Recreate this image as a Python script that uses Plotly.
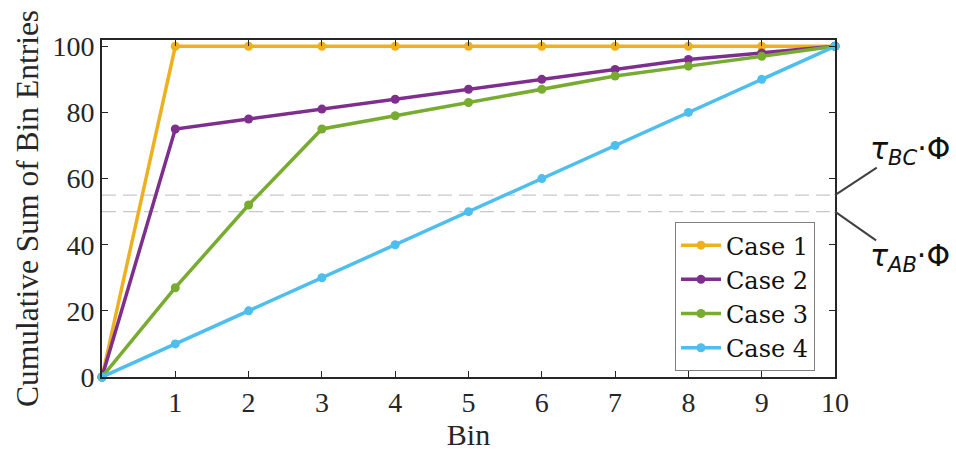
import plotly.graph_objects as go

bins = [0, 1, 2, 3, 4, 5, 6, 7, 8, 9, 10]
case1 = [0, 100, 100, 100, 100, 100, 100, 100, 100, 100, 100]
case2 = [0, 75, 78, 81, 84, 87, 90, 93, 96, 98, 100]
case3 = [0, 27, 52, 75, 79, 83, 87, 91, 94, 97, 100]
case4 = [0, 10, 20, 30, 40, 50, 60, 70, 80, 90, 100]
names = ["Case 1", "Case 2", "Case 3", "Case 4"]
colors = ["#EDB120", "#7E2F8E", "#77AC30", "#4DBEEE"]
tau_ab = 50
tau_bc = 55
xticks = [1, 2, 3, 4, 5, 6, 7, 8, 9, 10]
yticks = [0, 20, 40, 60, 80, 100]

FONT = "Liberation Serif"
fig = go.Figure()
for name, ys, c in zip(names, [case1, case2, case3, case4], colors):
    fig.add_trace(go.Scatter(x=bins, y=ys, name=name, mode="lines+markers",
                             line=dict(color=c, width=3.5),
                             marker=dict(color=c, size=9),
                             cliponaxis=False))

for yv in [tau_bc, tau_ab]:
    fig.add_shape(type="line", xref="x", yref="y", x0=0, x1=10, y0=yv, y1=yv,
                  line=dict(color="#c8c8c8", width=1.3, dash="14px,7px"), layer="below")

# leader lines to labels
fig.add_shape(type="line", xref="paper", yref="y", x0=1.0, x1=1.057, y0=tau_bc, y1=63.3,
              line=dict(color="#404040", width=2))
fig.add_shape(type="line", xref="paper", yref="y", x0=1.0, x1=1.056, y0=tau_ab, y1=41.3,
              line=dict(color="#404040", width=2))
fig.add_annotation(xref="paper", yref="y", x=1.045, y=68.4, xanchor="left", yanchor="middle",
                   text="<i>τ<sub>BC</sub></i>·Φ", showarrow=False,
                   font=dict(family="DejaVu Sans", size=30, color="#111111"))
fig.add_annotation(xref="paper", yref="y", x=1.045, y=36.2, xanchor="left", yanchor="middle",
                   text="<i>τ<sub>AB</sub></i>·Φ", showarrow=False,
                   font=dict(family="DejaVu Sans", size=30, color="#111111"))

axis_common = dict(showline=True, linecolor="#262626", linewidth=1.6, mirror="allticks",
                   ticks="inside", ticklen=6, tickwidth=1.4, tickcolor="#262626",
                   showgrid=False, zeroline=False,
                   tickfont=dict(family=FONT, size=28, color="#262626"))
fig.update_xaxes(range=[0, 10], tickvals=xticks, title=dict(text="Bin", standoff=6,
                 font=dict(family=FONT, size=30, color="#262626")), **axis_common)
fig.update_yaxes(range=[0, 101.9], tickvals=yticks, title=dict(text="Cumulative Sum of Bin Entries", standoff=5,
                 font=dict(family=FONT, size=31.5, color="#262626")), **axis_common)

fig.update_layout(
    width=956, height=457,
    margin=dict(l=101.5, r=121, t=40, b=78),
    plot_bgcolor="white", paper_bgcolor="white",
    legend=dict(x=0.9727, y=0.0177, xanchor="right", yanchor="bottom",
                bgcolor="white", bordercolor="#808080", borderwidth=1,
                font=dict(family="DejaVu Serif", size=24, color="#111111"),
                tracegroupgap=0, itemwidth=40),
    showlegend=True,
)
fig.write_html("out.html")
